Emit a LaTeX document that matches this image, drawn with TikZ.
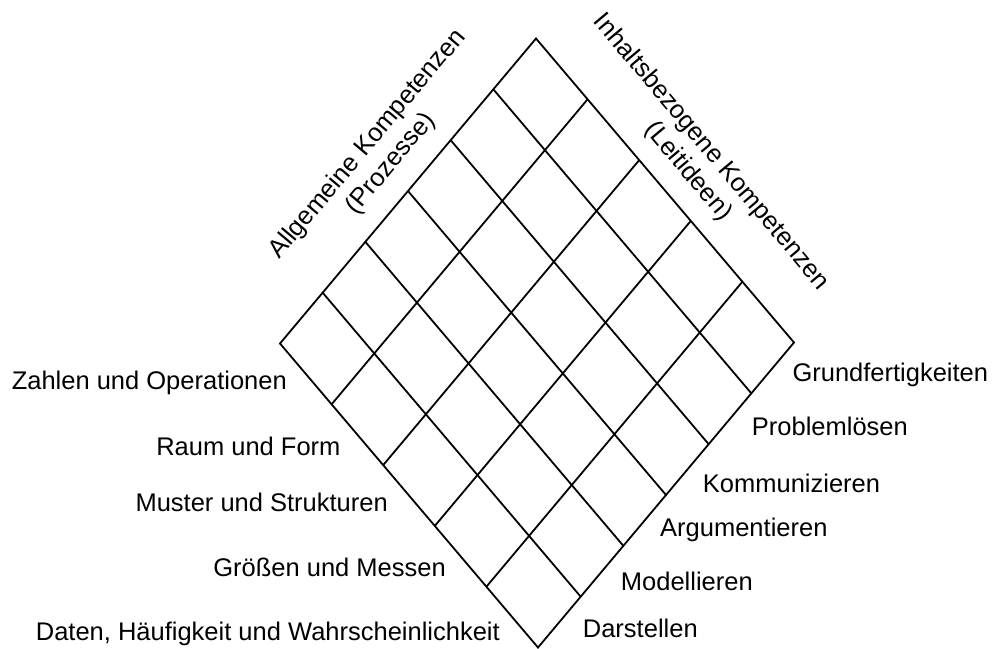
\documentclass[tikz,border=0pt]{standalone}
\usepackage{fontspec}
\setmainfont{Liberation Sans}
\usetikzlibrary{calc}
\begin{document}
\begin{tikzpicture}[x=1pt,y=-1pt,
  gridline/.style={line width=1.8pt, black, line join=miter},
  lbl/.style={inner sep=0pt, font=\fontsize{25.5}{30}\selectfont},
  toplbl/.style={lbl, align=center}]
\useasboundingbox (0,0) rectangle (992,648);
\coordinate (T) at (536,38.5);
\coordinate (L) at (280,343.5);
\coordinate (R) at (794,342.5);
\coordinate (B) at (538,647.5);
% outline
\draw[gridline] (T) -- (L) -- (B) -- (R) -- cycle;
% lines parallel to T--R
\foreach \i in {1,...,5}
  \draw[gridline] ($(T)!\i/6!(L)$) -- ($(R)!\i/6!(B)$);
% lines parallel to T--L
\foreach \j in {1,...,4}
  \draw[gridline] ($(T)!\j/5!(R)$) -- ($(L)!\j/5!(B)$);
% top labels
\node[toplbl, rotate=50] (allg) at (379.5,154) {Allgemeine Kompetenzen\\(Prozesse)};
\node[toplbl, rotate=-50] (inh) at (699.5,162) {Inhaltsbezogene Kompetenzen\\(Leitideen)};
% left labels
\node[lbl, anchor=base east] (l1) at (287,389.3) {Zahlen und Operationen};
\node[lbl, anchor=base east] (l2) at (340.7,455) {Raum und Form};
\node[lbl, anchor=base east] (l3) at (388,511.7) {Muster und Strukturen};
\node[lbl, anchor=base east] (l4) at (446,576.7) {Größen und Messen};
\node[lbl, anchor=base east] (l5) at (500,640) {Daten, Häufigkeit und Wahrscheinlichkeit};
% right labels
\node[lbl, anchor=base west] (r1) at (792.3,381) {Grundfertigkeiten};
\node[lbl, anchor=base west] (r2) at (751.7,435) {Problemlösen};
\node[lbl, anchor=base west] (r3) at (702.7,492.7) {Kommunizieren};
\node[lbl, anchor=base west] (r4) at (660,536.5) {Argumentieren};
\node[lbl, anchor=base west] (r5) at (620.7,590.7) {Modellieren};
\node[lbl, anchor=base west] (r6) at (582.7,637.3) {Darstellen};
\end{tikzpicture}
\end{document}
